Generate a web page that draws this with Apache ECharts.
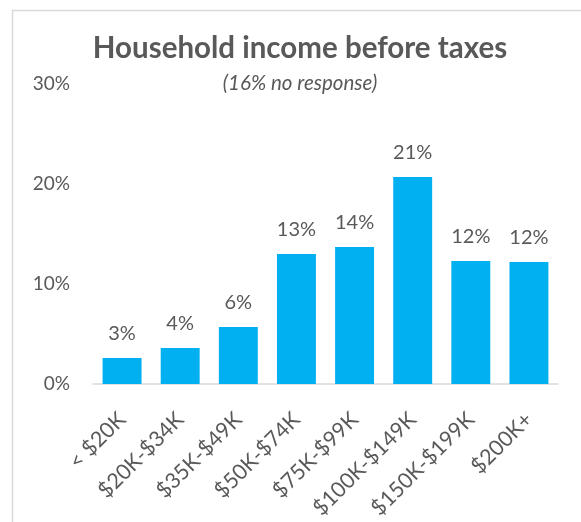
<!DOCTYPE html>
<html><head><meta charset="utf-8">
<script src="https://cdn.jsdelivr.net/npm/echarts@6/dist/echarts.min.js"></script>
<style>html,body{margin:0;padding:0;background:#fff}#c{width:581px;height:522px}</style>
</head><body><div id="c"></div>
<script>
const categories = ['< $20K','$20K-$34K','$35K-$49K','$50K-$74K','$75K-$99K','$100K-$149K','$150K-$199K','$200K+'];
const values = [2.6, 3.6, 5.7, 13.0, 13.7, 20.7, 12.3, 12.2];
const yTicks = [0, 10, 20, 30];
const titleText = 'Household income before taxes';
const subtitleText = '(16% no response)';

const font = 'Lato, "Open Sans", sans-serif';
const chart = echarts.init(document.getElementById('c'), null, {renderer:'canvas'});
chart.setOption({
  animation:false,
  graphic:[{type:'rect',shape:{x:12.5,y:10.5,width:600,height:600},style:{fill:'none',stroke:'#d9d9d9',lineWidth:1.5},silent:true}],
  title:[
    {text:titleText,left:300,textAlign:'center',top:33,padding:0,
      textStyle:{fontFamily:font,fontSize:29.5,fontWeight:'bold',color:'#595959'}},
    {text:subtitleText,left:300,textAlign:'center',top:73,padding:0,
      textStyle:{fontFamily:font,fontSize:20.5,fontStyle:'italic',fontWeight:'normal',color:'#595959'}}
  ],
  grid:{left:93,right:23,top:84,bottom:138,containLabel:false},
  xAxis:{type:'category',data:categories,
    axisLine:{lineStyle:{color:'#d9d9d9',width:1.5}},axisTick:{show:false},
    axisLabel:{rotate:45,interval:0,margin:32,fontFamily:font,fontSize:21.5,color:'#595959'}},
  yAxis:{type:'value',min:yTicks[0],max:yTicks[yTicks.length-1],interval:10,
    axisLine:{show:false},axisTick:{show:false},splitLine:{show:false},
    axisLabel:{formatter:v=>v+'%',margin:23,fontFamily:font,fontSize:19,color:'#595959'}},
  series:[{type:'bar',data:values,barCategoryGap:'33%',
    itemStyle:{color:'#00B0F0'},
    label:{show:true,position:'top',distance:14,formatter:p=>Math.round(p.value)+'%',
      fontFamily:font,fontSize:20,color:'#595959'}}]
});
</script></body></html>
